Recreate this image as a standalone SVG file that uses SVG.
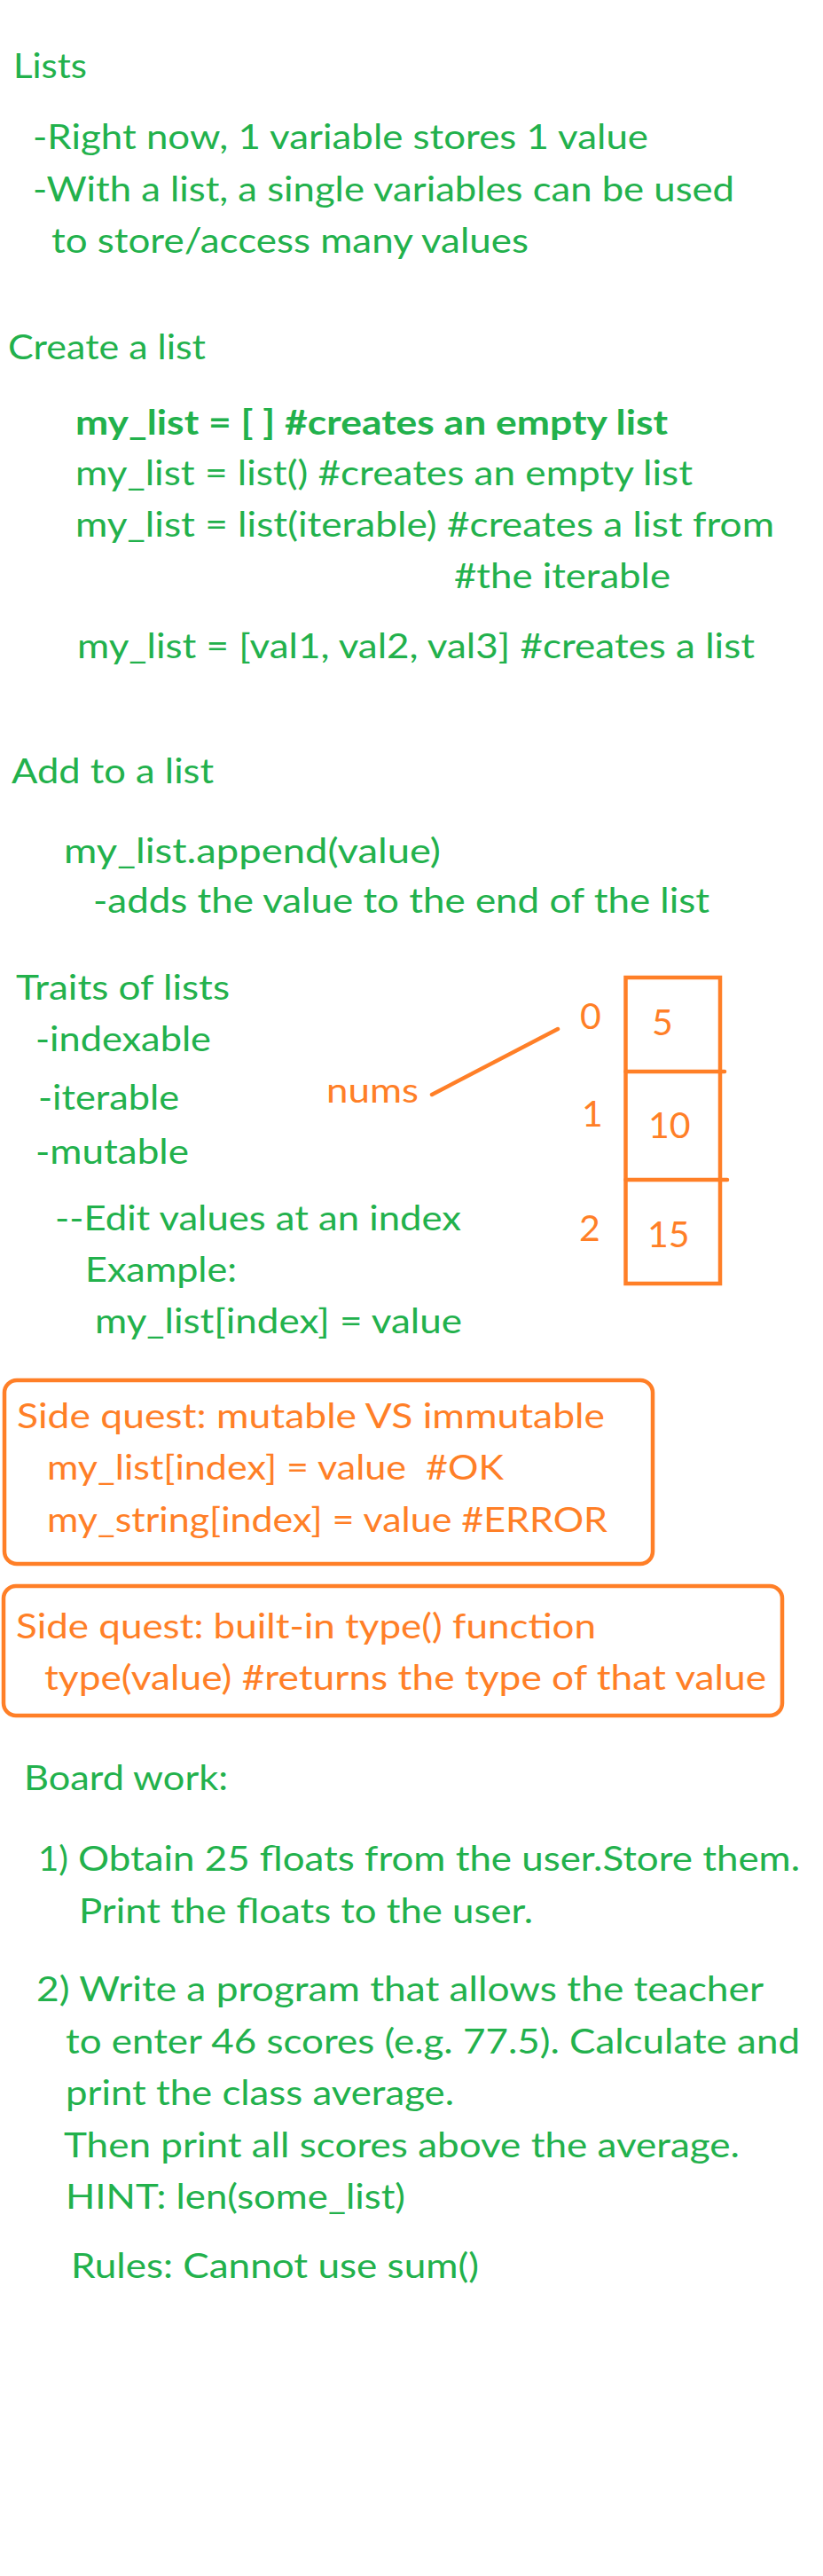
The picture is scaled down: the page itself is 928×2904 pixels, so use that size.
<svg xmlns="http://www.w3.org/2000/svg" width="928" height="2904" viewBox="0 0 928 2904">
<style>
text{font-family:Lato,"Open Sans","Liberation Sans",sans-serif;font-size:39px}
.g{fill:#22B14C}
.o{fill:#FF7F27}
.b{font-weight:bold}
.d{font-size:41px}
.box{fill:none;stroke:#FF7F27;stroke-width:4.5}
.ln{stroke:#FF7F27;stroke-width:4.5;stroke-linecap:round;fill:none}
</style>
<rect x="0" y="0" width="928" height="2904" fill="#ffffff"/>

<g id="lists-intro">
<text class="g" x="15" y="88" textLength="83" lengthAdjust="spacingAndGlyphs">Lists</text>
<text class="g" x="37" y="168" textLength="694" lengthAdjust="spacingAndGlyphs">-Right now, 1 variable stores 1 value</text>
<text class="g" x="37" y="227" textLength="791" lengthAdjust="spacingAndGlyphs">-With a list, a single variables can be used</text>
<text class="g" x="58" y="285" textLength="538" lengthAdjust="spacingAndGlyphs">to store/access many values</text>
</g>

<g id="create-list">
<text class="g" x="9" y="405" textLength="223" lengthAdjust="spacingAndGlyphs">Create a list</text>
<text class="g b" x="85" y="490" textLength="668" lengthAdjust="spacingAndGlyphs">my_list = [ ] #creates an empty list</text>
<text class="g" x="85" y="547" textLength="696" lengthAdjust="spacingAndGlyphs">my_list = list() #creates an empty list</text>
<text class="g" x="85" y="605" textLength="788" lengthAdjust="spacingAndGlyphs">my_list = list(iterable) #creates a list from</text>
<text class="g" x="512" y="663" textLength="244" lengthAdjust="spacingAndGlyphs">#the iterable</text>
<text class="g" x="87" y="742" textLength="764" lengthAdjust="spacingAndGlyphs">my_list = [val1, val2, val3] #creates a list</text>
</g>

<g id="add-list">
<text class="g" x="13" y="883" textLength="228" lengthAdjust="spacingAndGlyphs">Add to a list</text>
<text class="g" x="72" y="973" textLength="425" lengthAdjust="spacingAndGlyphs">my_list.append(value)</text>
<text class="g" x="105" y="1029" textLength="695" lengthAdjust="spacingAndGlyphs">-adds the value to the end of the list</text>
</g>

<g id="traits">
<text class="g" x="18" y="1127" textLength="241" lengthAdjust="spacingAndGlyphs">Traits of lists</text>
<text class="g" x="40" y="1185" textLength="198" lengthAdjust="spacingAndGlyphs">-indexable</text>
<text class="g" x="43" y="1251" textLength="159" lengthAdjust="spacingAndGlyphs">-iterable</text>
<text class="g" x="40" y="1312" textLength="173" lengthAdjust="spacingAndGlyphs">-mutable</text>
<text class="g" x="62" y="1387" textLength="458" lengthAdjust="spacingAndGlyphs">--Edit values at an index</text>
<text class="g" x="96" y="1445" textLength="171" lengthAdjust="spacingAndGlyphs">Example:</text>
<text class="g" x="107" y="1503" textLength="414" lengthAdjust="spacingAndGlyphs">my_list[index] = value</text>
</g>

<g id="nums-label">
<text class="o" x="368" y="1243" textLength="104" lengthAdjust="spacingAndGlyphs">nums</text>
</g>

<g id="array">
<rect class="box" x="705.5" y="1102" width="106.5" height="345"/>
<line class="ln" x1="705.5" y1="1208" x2="817" y2="1208"/>
<line class="ln" x1="705.5" y1="1330" x2="820" y2="1330"/>
<text class="o d" x="654" y="1160">0</text>
<text class="o d" x="656" y="1270">1</text>
<text class="o d" x="653" y="1399">2</text>
<text class="o d" x="735" y="1167">5</text>
<text class="o d" x="731" y="1283">10</text>
<text class="o d" x="730" y="1406">15</text>
</g>

<g id="connectors">
<line class="ln" x1="487" y1="1234" x2="629" y2="1160"/>
</g>

<g id="side-quest-mutable">
<rect class="box" x="5" y="1556" width="731" height="207" rx="14"/>
<text class="o" x="19" y="1610" textLength="663" lengthAdjust="spacingAndGlyphs">Side quest: mutable VS immutable</text>
<text class="o" x="53" y="1668" textLength="515" lengthAdjust="spacingAndGlyphs" xml:space="preserve" style="white-space:pre">my_list[index] = value  #OK</text>
<text class="o" x="53" y="1727" textLength="632" lengthAdjust="spacingAndGlyphs">my_string[index] = value #ERROR</text>
</g>

<g id="side-quest-type">
<rect class="box" x="4" y="1788" width="878" height="146" rx="14"/>
<text class="o" x="18" y="1847" textLength="654" lengthAdjust="spacingAndGlyphs">Side quest: built-in type() function</text>
<text class="o" x="50" y="1905" textLength="814" lengthAdjust="spacingAndGlyphs">type(value) #returns the type of that value</text>
</g>

<g id="board-work">
<text class="g" x="27" y="2018" textLength="230" lengthAdjust="spacingAndGlyphs">Board work:</text>
<text class="g" x="43" y="2109" textLength="34" lengthAdjust="spacingAndGlyphs">1)</text>
<text class="g" x="88" y="2109" textLength="814" lengthAdjust="spacingAndGlyphs">Obtain 25 floats from the user.Store them.</text>
<text class="g" x="89" y="2168" textLength="512" lengthAdjust="spacingAndGlyphs">Print the floats to the user.</text>
<text class="g" x="41" y="2256" textLength="820" lengthAdjust="spacingAndGlyphs">2) Write a program that allows the teacher</text>
<text class="g" x="74" y="2315" textLength="828" lengthAdjust="spacingAndGlyphs">to enter 46 scores (e.g. 77.5). Calculate and</text>
<text class="g" x="74" y="2373" textLength="438" lengthAdjust="spacingAndGlyphs">print the class average.</text>
<text class="g" x="72" y="2432" textLength="762" lengthAdjust="spacingAndGlyphs">Then print all scores above the average.</text>
<text class="g" x="74" y="2490" textLength="383" lengthAdjust="spacingAndGlyphs">HINT: len(some_list)</text>
<text class="g" x="80" y="2568" textLength="460" lengthAdjust="spacingAndGlyphs">Rules: Cannot use sum()</text>
</g>
</svg>
